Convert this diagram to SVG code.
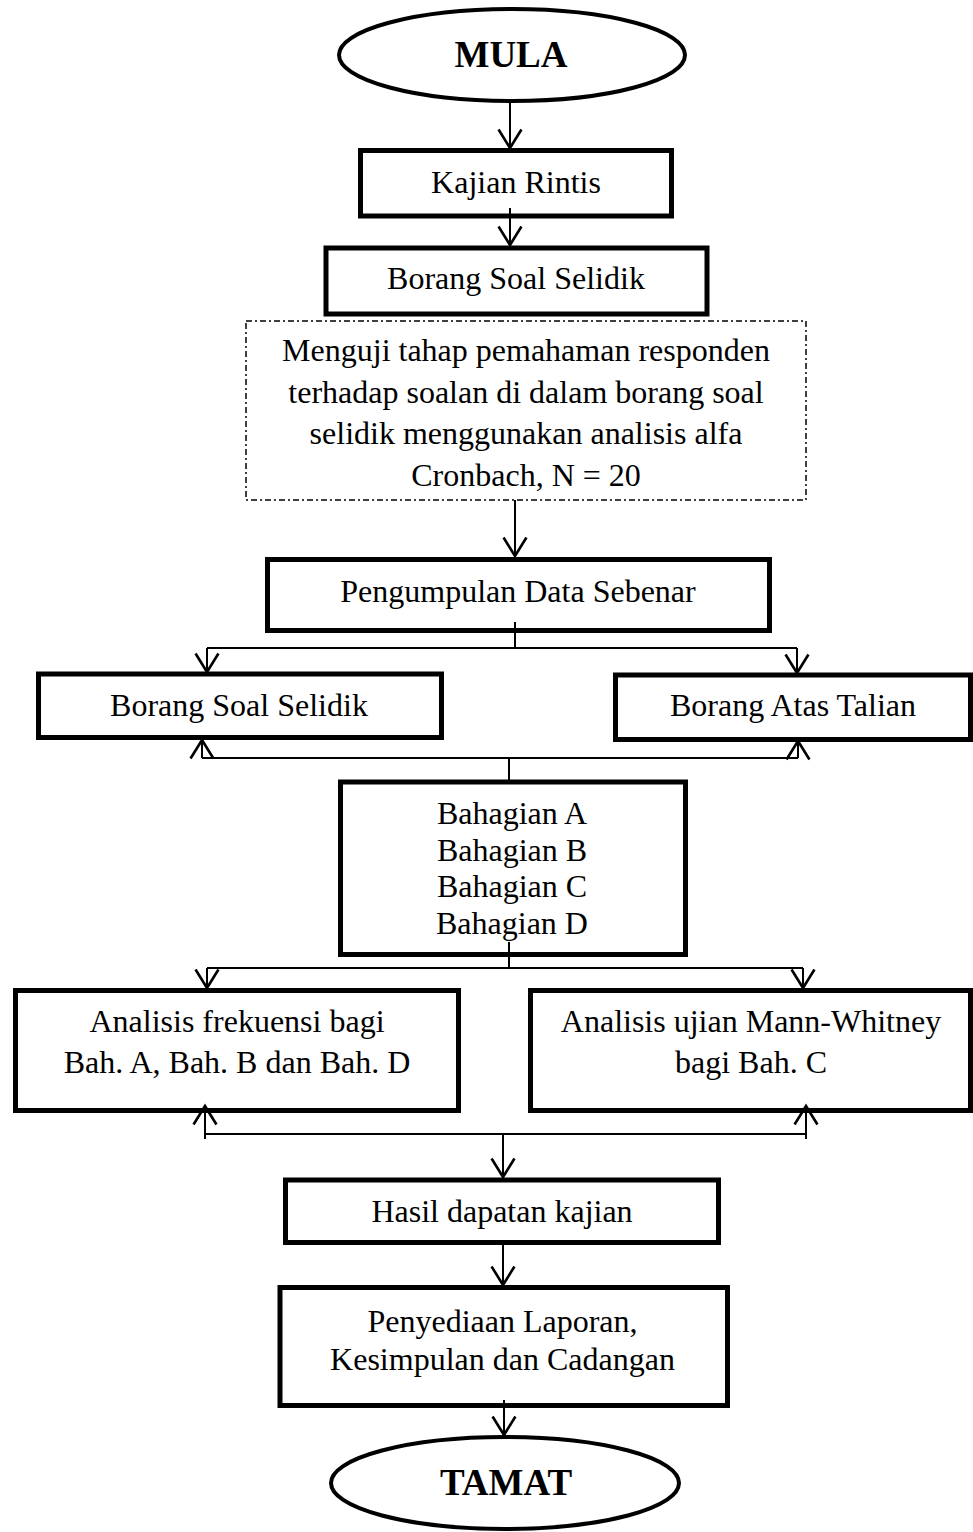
<svg xmlns="http://www.w3.org/2000/svg" width="973" height="1532" viewBox="0 0 973 1532">
<style>
.box{fill:#fff;stroke:#000;stroke-width:5}
.term{fill:#fff;stroke:#000;stroke-width:4}
.dash{fill:#fff;stroke:#000;stroke-width:1.5;stroke-dasharray:6 3 2 3}
.t{font-family:"Liberation Serif","Times New Roman",serif;font-size:32px;text-anchor:middle;fill:#000}
.tb{font-family:"Liberation Serif","Times New Roman",serif;font-size:37px;font-weight:bold;text-anchor:middle;fill:#000}
.c{fill:none;stroke:#000;stroke-width:2}
</style>
<defs>
<marker id="ah" markerUnits="userSpaceOnUse" markerWidth="24" markerHeight="28" viewBox="-20 -12 22 24" refX="0" refY="0" orient="auto" overflow="visible">
<path d="M-17,-10.5 L0,0 L-17,10.5" fill="none" stroke="#000" stroke-width="2.4"/>
</marker>
</defs>
<g id="mula">
<ellipse class="term" cx="512" cy="55" rx="173" ry="46"/>
<text class="tb" x="511" y="67">MULA</text>
</g>
<g id="kajian-rintis">
<rect class="box" x="360.5" y="150.5" width="311" height="65.5"/>
<text class="t" x="516" y="193">Kajian Rintis</text>
</g>
<g id="borang-soal-selidik-1">
<rect class="box" x="326" y="248" width="381" height="66"/>
<text class="t" x="516" y="289">Borang Soal Selidik</text>
</g>
<g id="menguji">
<rect class="dash" x="246" y="321" width="560" height="179"/>
<text class="t" x="526" y="361">Menguji tahap pemahaman responden</text>
<text class="t" x="526" y="403">terhadap soalan di dalam borang soal</text>
<text class="t" x="526" y="444">selidik menggunakan analisis alfa</text>
<text class="t" x="526" y="486">Cronbach, N = 20</text>
</g>
<g id="pengumpulan">
<rect class="box" x="267.5" y="559.5" width="502" height="71"/>
<text class="t" x="518" y="602">Pengumpulan Data Sebenar</text>
</g>
<g id="borang-soal-selidik-2">
<rect class="box" x="38.5" y="674" width="403" height="63.5"/>
<text class="t" x="239" y="716">Borang Soal Selidik</text>
</g>
<g id="borang-atas-talian">
<rect class="box" x="615.5" y="675" width="355" height="64.5"/>
<text class="t" x="793" y="716">Borang Atas Talian</text>
</g>
<g id="bahagian">
<rect class="box" x="340.5" y="782" width="345" height="172.5"/>
<text class="t" x="512" y="824">Bahagian A</text>
<text class="t" x="512" y="861">Bahagian B</text>
<text class="t" x="512" y="897">Bahagian C</text>
<text class="t" x="512" y="934">Bahagian D</text>
</g>
<g id="analisis-frekuensi">
<rect class="box" x="15.5" y="990.5" width="443" height="120"/>
<text class="t" x="237" y="1032">Analisis frekuensi bagi</text>
<text class="t" x="237" y="1073">Bah. A, Bah. B dan Bah. D</text>
</g>
<g id="analisis-mann-whitney">
<rect class="box" x="530.5" y="990.5" width="440" height="120"/>
<text class="t" x="751" y="1032">Analisis ujian Mann-Whitney</text>
<text class="t" x="751" y="1073">bagi Bah. C</text>
</g>
<g id="hasil">
<rect class="box" x="285.5" y="1180" width="433" height="62.5"/>
<text class="t" x="502" y="1222">Hasil dapatan kajian</text>
</g>
<g id="penyediaan">
<rect class="box" x="280" y="1287.5" width="447.5" height="118"/>
<text class="t" x="502.5" y="1332">Penyediaan Laporan,</text>
<text class="t" x="502.5" y="1370">Kesimpulan dan Cadangan</text>
</g>
<g id="tamat">
<ellipse class="term" cx="505" cy="1483" rx="174" ry="46"/>
<text class="tb" x="506" y="1495">TAMAT</text>
</g>
<g id="connectors">
<path class="c" d="M510,101 V148" marker-end="url(#ah)"/>
<path class="c" d="M510,208 V245" marker-end="url(#ah)"/>
<path class="c" d="M515,500 V556" marker-end="url(#ah)"/>
<path class="c" d="M515,622 V648 M207,648 H797"/>
<path class="c" d="M207,648 V672" marker-end="url(#ah)"/>
<path class="c" d="M797,648 V673" marker-end="url(#ah)"/>
<path class="c" d="M202,758 H798 M509,758 V784"/>
<path class="c" d="M202,758 V740" marker-end="url(#ah)"/>
<path class="c" d="M798,758 V741" marker-end="url(#ah)"/>
<path class="c" d="M509,942 V968 M207,968 H803"/>
<path class="c" d="M207,968 V988" marker-end="url(#ah)"/>
<path class="c" d="M803,968 V988" marker-end="url(#ah)"/>
<path class="c" d="M205,1134 H806 M205,1139 V1134 M806,1139 V1134"/>
<path class="c" d="M205,1134 V1106" marker-end="url(#ah)"/>
<path class="c" d="M806,1134 V1106" marker-end="url(#ah)"/>
<path class="c" d="M503,1134 V1177" marker-end="url(#ah)"/>
<path class="c" d="M503,1243 V1285" marker-end="url(#ah)"/>
<path class="c" d="M504,1400 V1435" marker-end="url(#ah)"/>
</g>
</svg>
